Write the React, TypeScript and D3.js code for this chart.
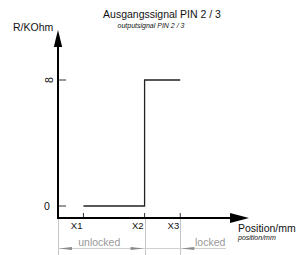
import React, { useEffect, useRef } from 'react';
import * as d3 from 'd3';

// positions along the travel (arbitrary mm units)
const xMarks = ['X1', 'X2', 'X3'];
const xMarkPos = [1, 3.4, 4.8];

// resistance levels: 0 and "infinite" (drawn as a rotated 8)
const yLevels = [0, 1];
const yLabels = ['0', '8'];

// output signal, step curve
const signalX = [1, 3.4, 3.4, 4.8];
const signalY = [0, 0, 1, 1];

// zones under the axis
const zoneNames = ['unlocked', 'locked'];
const zoneFrom = [0, 4.8];
const zoneTo = [3.4, 6.6];

const App = () => {
  const ref = useRef<SVGSVGElement | null>(null);

  useEffect(() => {
    const svg = d3.select(ref.current);
    svg.selectAll('*').remove();

    const width = 296;
    const height = 255;
    svg.attr('width', width).attr('height', height);

    const font = 'Liberation Sans, Arial, sans-serif';

    const x = d3.scaleLinear().domain([0, 7.5]).range([58, 249]);
    const y = d3.scaleLinear().domain([0, 1]).range([206, 80]);
    const axisY = 218;

    // gray reference lines below axis
    const refLines = [0, xMarkPos[1], xMarkPos[2]];
    svg.append('g')
      .selectAll('line')
      .data(refLines)
      .enter().append('line')
      .attr('x1', d => Math.round(x(d)) + 0.5).attr('x2', d => Math.round(x(d)) + 0.5)
      .attr('y1', axisY).attr('y2', height)
      .attr('stroke', '#c4c4c4')
      .attr('stroke-width', 1);

    // dimension line
    const dimY = 248.5;
    svg.append('line')
      .attr('x1', x(0)).attr('x2', x(zoneTo[1]))
      .attr('y1', dimY).attr('y2', dimY)
      .attr('stroke', '#d0d0d0')
      .attr('stroke-width', 1);

    const arrowHead = (tipX: number, dir: number) =>
      `M${tipX},${dimY} L${tipX + dir * 13},${dimY - 1.6} L${tipX + dir * 13},${dimY + 1.6} Z`;
    const dimArrows = [
      { tip: x(zoneFrom[0]) + 1, dir: 1 },
      { tip: x(zoneTo[0]) - 1, dir: -1 },
      { tip: x(zoneFrom[1]) + 1, dir: 1 },
    ];
    svg.append('g')
      .selectAll('path')
      .data(dimArrows)
      .enter().append('path')
      .attr('d', d => arrowHead(d.tip, d.dir))
      .attr('fill', '#8a8a8a');

    svg.append('g')
      .selectAll('text')
      .data(zoneNames)
      .enter().append('text')
      .attr('x', (d, i) => i === 0 ? x((zoneFrom[i] + zoneTo[i]) / 2) - 2 : x((zoneFrom[i] + zoneTo[i]) / 2) + 7)
      .attr('y', 245.5)
      .attr('text-anchor', 'middle')
      .attr('font-family', font)
      .attr('font-size', 10.5)
      .attr('fill', '#999')
      .text(d => d);

    // signal curve
    const pts: [number, number][] = signalX.map((v, i) => [v, signalY[i]]);
    const line = d3.line<[number, number]>().x(d => x(d[0])).y(d => y(d[1]));
    svg.append('path')
      .attr('d', line(pts))
      .attr('fill', 'none')
      .attr('stroke', '#222')
      .attr('stroke-width', 1.3);

    // y ticks + labels
    svg.append('g')
      .selectAll('line')
      .data(yLevels)
      .enter().append('line')
      .attr('x1', x(0)).attr('x2', x(0) + 8)
      .attr('y1', d => y(d)).attr('y2', d => y(d))
      .attr('stroke', '#333')
      .attr('stroke-width', 1);

    svg.append('g')
      .selectAll('text')
      .data(yLevels)
      .enter().append('text')
      .attr('transform', (d, i) => i === 1 ? `translate(49,${y(d)}) rotate(-90)` : `translate(47,${y(d)})`)
      .attr('dy', '0.35em')
      .attr('text-anchor', 'middle')
      .attr('font-family', font)
      .attr('font-size', 10.5)
      .attr('fill', '#111')
      .text((d, i) => yLabels[i]);

    // x ticks + labels
    svg.append('g')
      .selectAll('line')
      .data(xMarkPos)
      .enter().append('line')
      .attr('x1', d => x(d)).attr('x2', d => x(d))
      .attr('y1', axisY - 5).attr('y2', axisY)
      .attr('stroke', '#333')
      .attr('stroke-width', 1);

    svg.append('g')
      .selectAll('text')
      .data(xMarks)
      .enter().append('text')
      .attr('x', (d, i) => x(xMarkPos[i]) - 1)
      .attr('y', 228.5)
      .attr('text-anchor', 'end')
      .attr('font-family', font)
      .attr('font-size', 9.5)
      .attr('fill', '#111')
      .text(d => d);

    // axes with arrows
    svg.append('line')
      .attr('x1', x(0)).attr('x2', x(0))
      .attr('y1', axisY + 1).attr('y2', 46)
      .attr('stroke', '#000').attr('stroke-width', 2);
    svg.append('path')
      .attr('d', `M${x(0)},30 L${x(0) - 4.2},47 L${x(0) + 4.2},47 Z`)
      .attr('fill', '#000');

    svg.append('line')
      .attr('x1', x(0) - 1).attr('x2', 231)
      .attr('y1', axisY).attr('y2', axisY)
      .attr('stroke', '#000').attr('stroke-width', 2);
    svg.append('path')
      .attr('d', `M249,${axisY} L230,${axisY - 5} L230,${axisY + 5} Z`)
      .attr('fill', '#000');

    // axis titles
    svg.append('text')
      .attr('x', 13).attr('y', 31)
      .attr('font-family', font).attr('font-size', 10.5).attr('fill', '#111')
      .text('R/KOhm');

    svg.append('text')
      .attr('x', 238).attr('y', 231.5)
      .attr('font-family', font).attr('font-size', 10.5).attr('fill', '#111')
      .text('Position/mm');
    svg.append('text')
      .attr('x', 238).attr('y', 239.5)
      .attr('font-family', font).attr('font-size', 7).attr('font-style', 'italic').attr('fill', '#111')
      .text('position/mm');

    // title
    svg.append('text')
      .attr('x', 162).attr('y', 18)
      .attr('text-anchor', 'middle')
      .attr('font-family', font).attr('font-size', 10.5).attr('fill', '#111')
      .text('Ausgangssignal PIN 2 / 3');
    svg.append('text')
      .attr('x', 151).attr('y', 27.5)
      .attr('text-anchor', 'middle')
      .attr('font-family', font).attr('font-size', 7).attr('font-style', 'italic').attr('fill', '#111')
      .text('outputsignal PIN 2 / 3');
  }, []);

  return (
    <div style={{ position: 'absolute', left: 0, top: 0 }}>
      <svg ref={ref} style={{ display: 'block', background: '#fff' }}></svg>
    </div>
  );
};

export default App;
